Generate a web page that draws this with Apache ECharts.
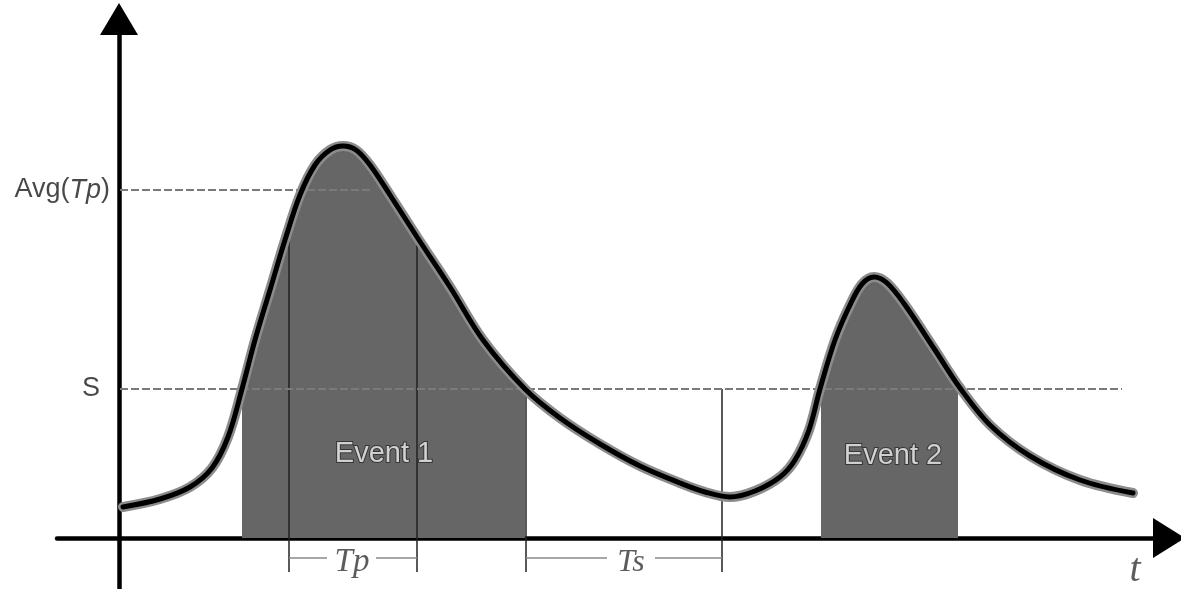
<!DOCTYPE html>
<html>
<head>
<meta charset="utf-8">
<title>Events over threshold</title>
<script src="https://cdn.jsdelivr.net/npm/echarts@6/dist/echarts.min.js"></script>
<style>
	html, body { margin: 0; padding: 0; background: #fff; }
	#chart { width: 1181px; height: 589px; }
</style>
</head>
<body>
<div id="chart"></div>
<script>
	// signal curve (t, value)
	const curveT = [4, 41, 71, 93, 109, 123, 136, 151, 166, 181, 196, 211, 224, 237, 251, 271, 298, 331, 364, 406, 441, 481, 521, 561, 586, 611, 636, 661, 676, 690, 701, 716, 731, 743, 755, 768, 786, 816, 841, 871, 911, 961, 1014];
	const curveV = [31, 39, 51, 70, 101, 149, 198, 248, 298, 343, 373, 388, 392, 388, 373, 343, 301, 251, 198, 149, 120, 94, 72, 55, 46, 41, 47, 61, 78, 108, 149, 198, 233, 254, 261, 255, 233, 188, 150, 113, 82, 58, 45];

	const S = 149;
	const AVG_TP = 348;
	const sEnd = 1003;
	const avgEnd = 254;

	// event spans (start, end) where curve > S
	const event1 = [123, 406];
	const event2 = [702, 839];
	const eventNames = ['Event 1', 'Event 2'];
	const eventLabelT = [265, 774];
	const eventLabelV = [84, 82];

	// vertical markers and brackets under the axis
	const markerT = [170, 298, 407, 603];
	const markerTop = [300, 295, 149, 149];
	const markerBottom = -34;
	const bracketV = -20;
	const tpRange = [170, 208, 257, 298];
	const tsRange = [407, 488, 536, 603];

	const curveData = curveT.map((t, i) => [t, curveV[i]]);

	function eventFill(span) {
		const inner = curveData.filter(p => p[0] > span[0] && p[0] < span[1]);
		return [[span[0], S]].concat(inner, [[span[1], S]]);
	}

	const guideLines = [
		{ coords: [[1, S], [sEnd, S]] },
		{ coords: [[1, AVG_TP], [avgEnd, AVG_TP]] }
	];
	const markerLines = markerT.map((t, i) => ({ coords: [[t, markerTop[i]], [t, markerBottom]] }));
	const bracketLines = [
		{ coords: [[tpRange[0], bracketV], [tpRange[1], bracketV]] },
		{ coords: [[tpRange[2], bracketV], [tpRange[3], bracketV]] },
		{ coords: [[tsRange[0], bracketV], [tsRange[1], bracketV]] },
		{ coords: [[tsRange[2], bracketV], [tsRange[3], bracketV]] }
	];

	const sans = '"Liberation Sans", Arial, sans-serif';
	const serif = '"Liberation Serif", "Times New Roman", serif';
	const SMOOTH = 0.35;

	const chart = echarts.init(document.getElementById('chart'));

	const option = {
		animation: false,
		grid: { left: 57, right: 12, top: 19, bottom: 0 },
		xAxis: {
			type: 'value',
			min: -62,
			max: 1050,
			axisLine: {
				onZero: true,
				symbol: ['none', 'triangle'],
				symbolSize: [40, 32],
				lineStyle: { color: '#000', width: 4.5 }
			},
			axisTick: { show: false },
			axisLabel: { show: false },
			splitLine: { show: false }
		},
		yAxis: {
			type: 'value',
			min: -51,
			max: 519,
			axisLine: {
				onZero: true,
				symbol: ['none', 'triangle'],
				symbolSize: [38, 32],
				lineStyle: { color: '#000', width: 4.5 }
			},
			axisTick: { show: false },
			axisLabel: { show: false },
			splitLine: { show: false }
		},
		series: [
			{
				name: 'fill1',
				type: 'line',
				z: 1,
				smooth: SMOOTH,
				symbol: 'none',
				data: eventFill(event1),
				lineStyle: { width: 0 },
				areaStyle: { color: '#666', opacity: 1 }
			},
			{
				name: 'fill2',
				type: 'line',
				z: 1,
				smooth: SMOOTH,
				symbol: 'none',
				data: eventFill(event2),
				lineStyle: { width: 0 },
				areaStyle: { color: '#666', opacity: 1 }
			},
			{
				name: 'markers',
				type: 'lines',
				coordinateSystem: 'cartesian2d',
				z: 2,
				data: markerLines,
				lineStyle: { color: '#222', width: 1.5, opacity: 1 }
			},
			{
				name: 'brackets',
				type: 'lines',
				coordinateSystem: 'cartesian2d',
				z: 2,
				data: bracketLines,
				lineStyle: { color: '#888', width: 1.5, opacity: 1 }
			},
			{
				name: 'guides',
				type: 'lines',
				coordinateSystem: 'cartesian2d',
				z: 3,
				data: guideLines,
				lineStyle: { color: '#7a7a7a', width: 2, type: [8, 3], opacity: 1 }
			},
			{
				// soft grey halo round the curve
				name: 'halo',
				type: 'line',
				z: 4,
				smooth: SMOOTH,
				symbol: 'none',
				data: curveData,
				lineStyle: { color: '#8c8c8c', width: 10, cap: 'round' }
			},
			{
				name: 'curve',
				type: 'line',
				z: 5,
				smooth: SMOOTH,
				symbol: 'none',
				data: curveData,
				lineStyle: { color: '#000', width: 5, cap: 'round' }
			},
			{
				name: 'labels',
				type: 'scatter',
				z: 6,
				symbolSize: 0,
				silent: true,
				data: [
					{
						value: [0, AVG_TP],
						label: {
							show: true, position: 'left', distance: 9,
							formatter: 'Avg({i|Tp})',
							fontFamily: sans, fontSize: 27, color: '#1a1a1a',
							rich: { i: { fontFamily: sans, fontSize: 27, fontStyle: 'italic', color: '#1a1a1a' } }
						}
					},
					{
						value: [0, S],
						label: { show: true, position: 'left', distance: 19, formatter: 'S', fontFamily: sans, fontSize: 27, color: '#1a1a1a' }
					},
					...eventNames.map((n, i) => ({
						value: [eventLabelT[i], eventLabelV[i]],
						label: {
							show: true, position: 'inside', formatter: n,
							fontFamily: sans, fontSize: 29, color: '#f5f5f5',
							textBorderColor: '#2a2a2a', textBorderWidth: 2
						}
					})),
					{
						value: [233, -24],
						label: { show: true, position: 'inside', formatter: 'Tp', fontFamily: serif, fontStyle: 'italic', fontSize: 33, color: '#333' }
					},
					{
						value: [512, -25],
						label: { show: true, position: 'inside', formatter: 'Ts', fontFamily: serif, fontStyle: 'italic', fontSize: 32, color: '#333' }
					},
					{
						value: [1016, -32],
						label: { show: true, position: 'inside', formatter: 't', fontFamily: serif, fontStyle: 'italic', fontSize: 40, color: '#333' }
					}
				]
			}
		]
	};

	chart.setOption(option);
</script>
</body>
</html>
